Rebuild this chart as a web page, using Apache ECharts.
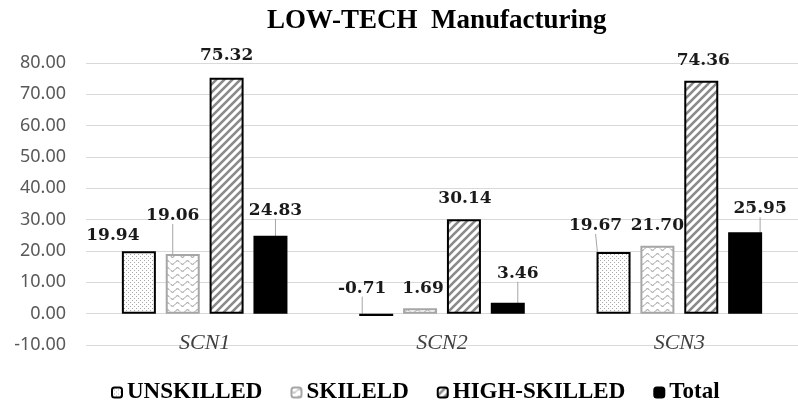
<!DOCTYPE html>
<html>
<head>
<meta charset="utf-8">
<script src="https://cdn.jsdelivr.net/npm/echarts@6/dist/echarts.min.js"></script>
<style>
  html, body { margin: 0; padding: 0; background: #ffffff; }
  #chart { width: 798px; height: 403px; }
</style>
</head>
<body>
<div id="chart"></div>
<script>
const categories = ["SCN1", "SCN2", "SCN3"];
const seriesNames = ["UNSKILLED", "SKILELD", "HIGH-SKILLED", "Total"];
const unskilled = [19.94, -0.71, 19.67];
const skilled = [19.06, 1.69, 21.70];
const highSkilled = [75.32, 30.14, 74.36];
const total = [24.83, 3.46, 25.95];
const yMin = -10, yMax = 80, yStep = 10;

// label nudges (dx, dy) and which labels get a leader line, as in the original
const labelShift = [
  [[-26, 5], [-14, -5], [-18, -6]],
  [[-10, -18], [3, 1], [0, 0]],
  [[0, -2], [1, 0], [2, 0]],
  [[5, -5], [10, -9], [15, -3]],
];
const leader = [
  [false, true, true],
  [true, false, false],
  [false, false, false],
  [true, true, true],
];

function pattern(w, h, draw) {
  const c = document.createElement("canvas");
  c.width = w; c.height = h;
  const ctx = c.getContext("2d");
  ctx.fillStyle = "#ffffff";
  ctx.fillRect(0, 0, w, h);
  draw(ctx);
  return { image: c, repeat: "repeat" };
}

const dots = pattern(4, 4, (ctx) => {
  ctx.fillStyle = "#a8a8a8";
  ctx.fillRect(0, 0, 1, 1);
  ctx.fillRect(2, 2, 1, 1);
});
const waves = pattern(10, 7, (ctx) => {
  ctx.strokeStyle = "#8c8c8c";
  ctx.lineWidth = 1;
  ctx.beginPath();
  for (let x = 0; x <= 10; x += 0.5) {
    const y = 3.5 + 1.8 * Math.sin((x / 10) * Math.PI * 2);
    if (x === 0) ctx.moveTo(x, y); else ctx.lineTo(x, y);
  }
  ctx.stroke();
});
const stripes = pattern(8, 8, (ctx) => {
  ctx.strokeStyle = "#8a8a8a";
  ctx.lineWidth = 2.6;
  ctx.beginPath();
  ctx.moveTo(-2, 10); ctx.lineTo(10, -2);
  ctx.moveTo(-2, 2); ctx.lineTo(2, -2);
  ctx.moveTo(6, 10); ctx.lineTo(10, 6);
  ctx.stroke();
});

const fills = [dots, waves, stripes, "#000000"];
const borders = ["#000000", "#a6a6a6", "#000000", "#000000"];
const values = [unskilled, skilled, highSkilled, total];

const chart = echarts.init(document.getElementById("chart"), null, { renderer: "canvas" });

const series = values.map((vals, si) => ({
  name: seriesNames[si],
  type: "bar",
  barWidth: 34,
  barGap: "29%",
  itemStyle: { color: fills[si], borderColor: borders[si], borderWidth: 2 },
  label: {
    show: true,
    position: "top",
    distance: 12,
    fontFamily: "DejaVu Serif",
    fontWeight: "bold",
    fontSize: 17,
    color: "#1a1a1a",
    formatter: (p) => p.value.toFixed(2),
  },
  labelLine: { show: true, lineStyle: { color: "#a6a6a6", width: 1 } },
  labelLayout: (p) => ({ dx: labelShift[si][p.dataIndex][0], dy: labelShift[si][p.dataIndex][1] }),
  data: vals.map((v, i) => ({ value: v, labelLine: { show: leader[si][i] } })),
}));

chart.setOption({
  backgroundColor: "#ffffff",
  animation: false,
  title: {
    text: "LOW-TECH  Manufacturing",
    left: 262,
    top: 3,
    textStyle: { fontFamily: "Liberation Serif", fontWeight: "bold", fontSize: 27, color: "#000000" },
  },
  legend: {
    data: seriesNames,
    left: 106,
    top: 376,
    itemWidth: 10,
    itemHeight: 10,
    itemGap: 28,
    textStyle: { fontFamily: "Liberation Serif", fontWeight: "bold", fontSize: 23, color: "#000000" },
  },
  grid: { left: 86, top: 63, width: 720, height: 282, containLabel: false },
  xAxis: {
    type: "category",
    data: categories,
    axisLine: { show: false, onZero: false },
    axisTick: { show: false },
    axisLabel: { margin: -13, fontFamily: "Liberation Serif", fontStyle: "italic", fontSize: 22, color: "#404040" },
  },
  yAxis: {
    type: "value",
    min: yMin,
    max: yMax,
    interval: yStep,
    axisLine: { show: false },
    axisTick: { show: false },
    splitLine: { lineStyle: { color: "#d9d9d9", width: 1 } },
    axisLabel: { margin: 20, fontFamily: "Noto Sans", fontSize: 18, color: "#595959", formatter: (v) => v.toFixed(2) },
  },
  series: series,
});
</script>
</body>
</html>
